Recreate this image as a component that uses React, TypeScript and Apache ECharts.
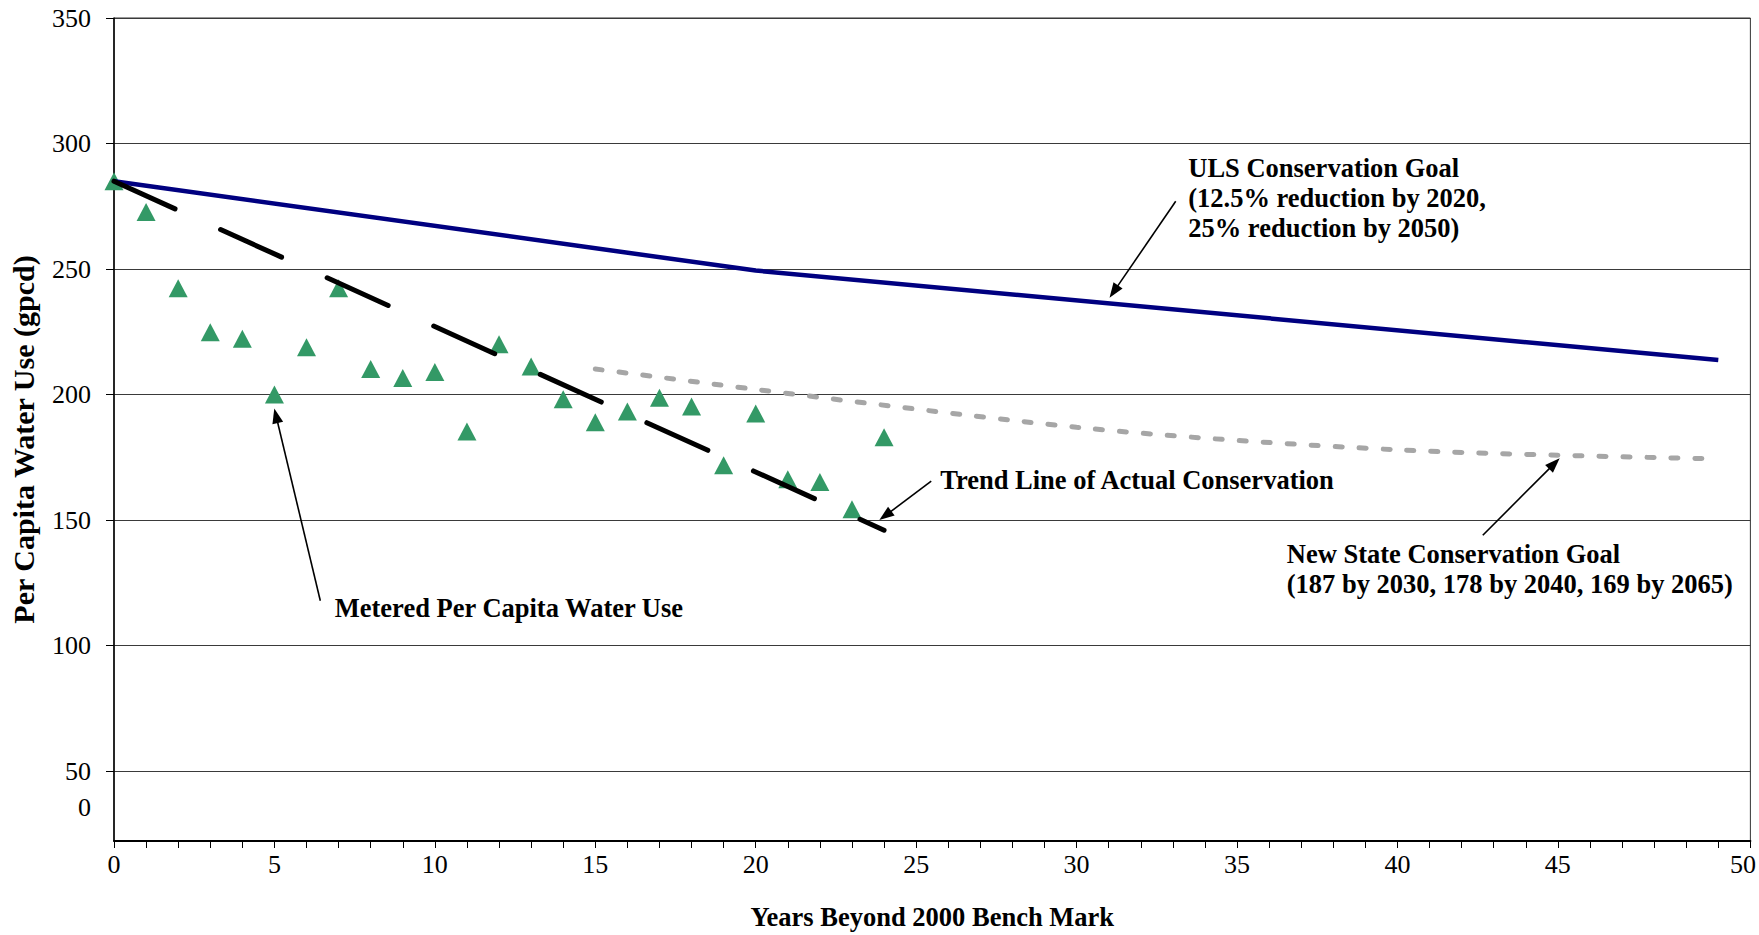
import React, { useEffect, useRef } from "react";
import * as echarts from "echarts";

// ---- Data ----
const meteredYears = [0, 1, 2, 3, 4, 5, 6, 7, 8, 9, 10, 11, 12, 13, 14, 15, 16, 17, 18, 19, 20, 21, 22, 23, 24];
const meteredUse = [285.0, 272.7, 242.4, 224.8, 222.2, 200.0, 218.9, 242.4, 210.2, 206.6, 209.0, 185.3, 220.1, 211.2, 198.1, 189.0, 193.3, 198.7, 195.3, 171.9, 192.5, 166.3, 165.2, 154.3, 183.0];

const ulsYears = [0, 20, 50];
const ulsGoal = [285, 249.4, 213.75];

const stateYears = [15, 30, 40, 50];
const stateGoal = [210.2, 187, 178, 174.4];

const trendYears = [0, 24];
const trendUse = [285, 146];

// ---- Axis ticks / labels ----
const yGridValues = [50, 100, 150, 200, 250, 300, 350];
const yZeroLabelAt = 35.5;
const yMin = 22.2;
const yMax = 350;
const xMin = 0;
const xMax = 51;
const xTickValues = Array.from({ length: 52 }, (_, i) => i);
const xLabelAt = [0, 5, 10, 15, 20, 25, 30, 35, 40, 45, 50.77];
const xLabelText = ["0", "5", "10", "15", "20", "25", "30", "35", "40", "45", "50"];

// ---- Annotations (data coordinates) ----
const annoFont = "bold 26.5px 'Liberation Serif', 'Times New Roman', serif";
const annotations = [
  { at: [33.48, 296.4], lines: ["ULS Conservation Goal", "(12.5% reduction by 2020,", "25% reduction by 2050)"], va: "top" },
  { at: [25.75, 166.0], lines: ["Trend Line of Actual Conservation"], va: "middle" },
  { at: [6.88, 115.0], lines: ["Metered Per Capita Water Use"], va: "middle" },
  { at: [36.55, 142.6], lines: ["New State Conservation Goal", "(187 by 2030, 178 by 2040, 169 by 2065)"], va: "top" },
];
const arrows = [
  { from: [33.09, 277.0], to: [31.16, 241.0] },
  { from: [25.47, 165.5], to: [24.04, 151.8] },
  { from: [6.43, 117.9], to: [5.05, 191.6] },
  { from: [42.66, 144.0], to: [44.89, 172.5] },
];

const serif = "'Liberation Serif', 'Times New Roman', serif";

export default function App() {
  const ref = useRef<HTMLDivElement>(null);
  useEffect(() => {
    if (!ref.current) return;
    const chart = echarts.init(ref.current, undefined, { renderer: "svg" });
    const option: any = {
      animation: false,
      backgroundColor: "#ffffff",
      grid: {
        left: 112,
        right: 8.5,
        top: 18,
        bottom: 91.4,
        show: true,
        borderColor: "#333333",
        borderWidth: 1,
        backgroundColor: "transparent",
      },
      xAxis: {
        type: "value",
        min: xMin,
        max: xMax,
        name: "Years Beyond 2000 Bench Mark",
        nameLocation: "middle",
        nameGap: 62,
        nameTextStyle: { fontFamily: serif, fontWeight: "bold", fontSize: 26.5, color: "#000" },
        axisLine: { show: true, onZero: false, lineStyle: { color: "#000", width: 2 } },
        axisTick: { show: true, customValues: xTickValues, length: 7, lineStyle: { color: "#000", width: 1 } },
        axisLabel: {
          customValues: xLabelAt,
          margin: 10,
          fontFamily: serif,
          fontSize: 26,
          color: "#000",
          formatter: (v: number) => {
            const i = xLabelAt.indexOf(v);
            return i >= 0 ? xLabelText[i] : "";
          },
        },
        splitLine: { show: false },
      },
      yAxis: {
        type: "value",
        min: yMin,
        max: yMax,
        name: "Per Capita Water Use (gpcd)",
        nameLocation: "middle",
        nameGap: 76,
        nameRotate: 90,
        nameTextStyle: { fontFamily: serif, fontWeight: "bold", fontSize: 30, color: "#000", padding: [0, 20, 0, 0] },
        axisLine: { show: true, onZero: false, lineStyle: { color: "#000", width: 1.5 } },
        axisTick: { show: true, customValues: yGridValues, length: 8, lineStyle: { color: "#000", width: 1 } },
        axisLabel: {
          customValues: [yZeroLabelAt, ...yGridValues],
          margin: 23,
          fontFamily: serif,
          fontSize: 26,
          color: "#000",
          formatter: (v: number) => (v === yZeroLabelAt ? "0" : String(v)),
        },
        splitLine: { show: true, lineStyle: { color: "#3a3a3a", width: 1 } },
      },
      series: [
        {
          name: "Metered Per Capita Water Use",
          type: "scatter",
          z: 2,
          symbol: "triangle",
          symbolSize: [19, 18],
          itemStyle: { color: "#339966", opacity: 1 },
          data: meteredYears.map((x, i) => [x, meteredUse[i]]),
          markLine: {
            silent: true,
            symbol: ["none", "triangle"],
            symbolSize: [11, 15],
            label: { show: false },
            lineStyle: { color: "#000", width: 1.6, type: "solid" },
            data: arrows.map((a) => [{ coord: a.from }, { coord: a.to }]),
          },
        },
        {
          name: "New State Conservation Goal",
          type: "line",
          z: 3,
          smooth: 0.3,
          showSymbol: false,
          lineStyle: { color: "#a6a6a6", width: 5, type: [7, 17], cap: "round" },
          data: stateYears.map((x, i) => [x, stateGoal[i]]),
        },
        {
          name: "ULS Conservation Goal",
          type: "line",
          z: 4,
          showSymbol: false,
          lineStyle: { color: "#000080", width: 4.5 },
          data: ulsYears.map((x, i) => [x, ulsGoal[i]]),
        },
        {
          name: "Trend Line of Actual Conservation",
          type: "line",
          z: 4,
          showSymbol: false,
          lineStyle: { color: "#000", width: 5, type: [67, 50], cap: "round" },
          data: trendYears.map((x, i) => [x, trendUse[i]]),
        },
      ],
    };
    chart.setOption(option);

    const graphic = annotations.map((a) => {
      const p = chart.convertToPixel({ gridIndex: 0 }, a.at) as number[];
      return {
        type: "text",
        x: p[0],
        y: p[1],
        z: 10,
        style: {
          text: a.lines.join("\n"),
          font: annoFont,
          fill: "#000",
          align: "left",
          verticalAlign: a.va,
          lineHeight: 30,
        },
      };
    });
    chart.setOption({ graphic });

    return () => chart.dispose();
  }, []);
  return (
    <div
      ref={ref}
      style={{ position: "absolute", left: 0, top: 0, width: 1759, height: 935 }}
    />
  );
}
